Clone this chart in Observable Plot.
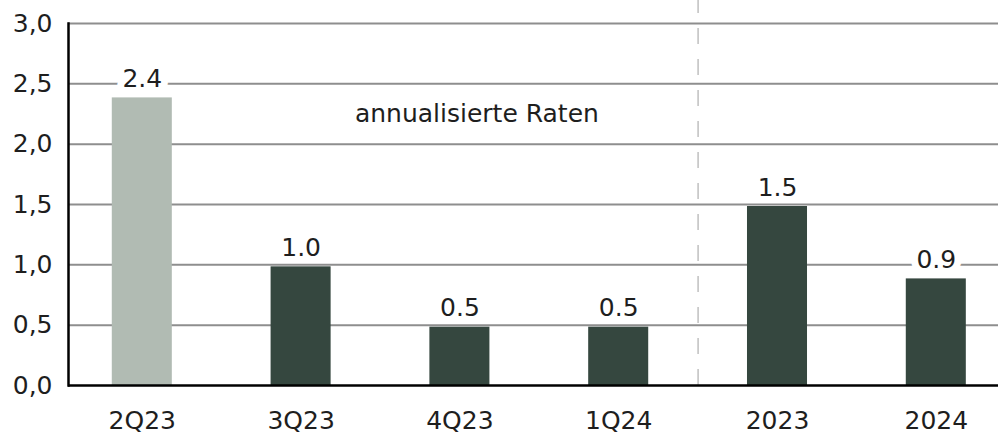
<!DOCTYPE html>
<html>
<head>
<meta charset="utf-8">
<script src="https://cdn.jsdelivr.net/npm/d3@7"></script>
<script src="https://cdn.jsdelivr.net/npm/@observablehq/plot@0.6"></script>
<style>
  html, body { margin: 0; padding: 0; background: #fff; }
</style>
</head>
<body>
<div id="chart"></div>
<script>
const categories = ["2Q23", "3Q23", "4Q23", "1Q24", "2023", "2024"];
const values = [2.4, 1.0, 0.5, 0.5, 1.5, 0.9];
const shades = ["light", "dark", "dark", "dark", "dark", "dark"];
const yTicks = [0, 0.5, 1.0, 1.5, 2.0, 2.5, 3.0];
const noteText = "annualisierte Raten";
const noteCategory = "4Q23";
const noteValue = 2.25;
const dividerAfter = "1Q24";

const data = categories.map((c, i) => ({ cat: c, value: values[i], shade: shades[i] }));

const xRange = [62.4, 1015.2];
const xScale = d3.scaleBand(categories, xRange).paddingInner(0.622).paddingOuter(0.311);
const step = xScale.step();

const font = "DejaVu Sans";

const chart = Plot.plot({
  width: 1000,
  height: 441,
  marginLeft: 68,
  marginRight: 2,
  marginTop: 23,
  marginBottom: 56,
  style: { fontFamily: font, fontSize: "25px", color: "#1e1e1e", background: "#fff" },
  x: { domain: categories, range: xRange, paddingInner: 0.622, paddingOuter: 0.311, round: false },
  y: { domain: [0, 3] },
  marks: [
    Plot.ruleY(yTicks.slice(1), { stroke: "#8e8e8e", strokeWidth: 2 }),
    Plot.ruleX([dividerAfter], { dx: step / 2, y1: 0, y2: 3.19, stroke: "#c4c4c4", strokeWidth: 1.6, strokeDasharray: "16,15" }),
    Plot.barY(data, { x: "cat", y: "value", insetTop: 2, fill: d => d.shade === "light" ? "#b1bbb3" : "#35473f" }),
    Plot.text(data, {
      x: "cat", y: "value", text: d => d.value.toFixed(1),
      lineAnchor: "bottom", dy: -9, fill: "#1e1e1e",
      stroke: "#fff", strokeWidth: 14, paintOrder: "stroke", fontSize: 25
    }),
    Plot.text([{ x: noteCategory, y: noteValue, t: noteText }], {
      x: "x", y: "y", text: "t", dx: 17, fill: "#1e1e1e", fontSize: 25
    }),
    Plot.ruleY([0], { stroke: "#000", strokeWidth: 2.5 }),
    Plot.frame({ anchor: "left", stroke: "#000", strokeWidth: 2.5 }),
    Plot.axisY(yTicks, {
      tickSize: 0, tickPadding: 16, label: null, fontSize: 25,
      tickFormat: d => d.toFixed(1).replace(".", ",")
    }),
    Plot.axisX({ tickSize: 0, tickPadding: 26, label: null, fontSize: 25 })
  ]
});

document.getElementById("chart").appendChild(chart);
</script>
</body>
</html>
